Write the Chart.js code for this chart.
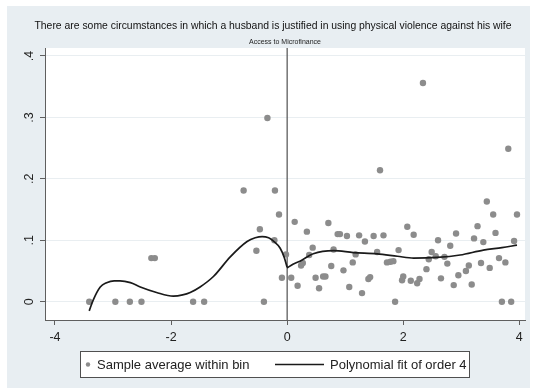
<!DOCTYPE html>
<html>
<head>
<meta charset="utf-8">
<script src="https://cdn.jsdelivr.net/npm/chart.js@4.4.1/dist/chart.umd.min.js"></script>
<style>
    html, body { margin: 0; padding: 0; background: #fff; }
</style>
</head>
<body>
<canvas id="chart" width="534" height="390"></canvas>
<script>
// bin averages (x = running variable, y = share)
const binX = [-3.41, -2.96, -2.71, -2.51, -2.34, -2.28, -1.62, -1.43,
    -0.75, -0.53, -0.47, -0.40, -0.34, -0.22, -0.21, -0.14, -0.09, -0.02,
    0.07, 0.13, 0.18, 0.24, 0.27, 0.34, 0.38, 0.44, 0.49, 0.55, 0.62, 0.66, 0.71, 0.76, 0.80, 0.87, 0.91, 0.97,
    1.03, 1.07, 1.13, 1.18, 1.24, 1.29, 1.34, 1.40, 1.43, 1.49, 1.55, 1.60, 1.66, 1.72, 1.78, 1.83, 1.86, 1.92, 1.98,
    2.00, 2.07, 2.13, 2.18, 2.24, 2.28, 2.34, 2.40, 2.44, 2.49, 2.56, 2.60, 2.65, 2.71, 2.76, 2.81, 2.87, 2.91, 2.95,
    3.08, 3.13, 3.18, 3.22, 3.28, 3.34, 3.38, 3.44, 3.49, 3.55, 3.59, 3.65, 3.70, 3.76, 3.81, 3.86, 3.91, 3.96];
const binY = [0, 0, 0, 0, 0.071, 0.071, 0, 0,
    0.181, 0.083, 0.118, 0, 0.299, 0.100, 0.181, 0.142, 0.039, 0.077,
    0.039, 0.130, 0.026, 0.059, 0.063, 0.114, 0.076, 0.088, 0.039, 0.022, 0.041, 0.041, 0.128, 0.058, 0.085, 0.110, 0.110, 0.051,
    0.107, 0.024, 0.064, 0.077, 0.108, 0.014, 0.098, 0.037, 0.040, 0.107, 0.081, 0.214, 0.108, 0.064, 0.065, 0.066, 0, 0.084, 0.035,
    0.041, 0.122, 0.034, 0.109, 0.030, 0.037, 0.356, 0.053, 0.069, 0.081, 0.074, 0.100, 0.038, 0.073, 0.062, 0.091, 0.027, 0.111, 0.043,
    0.050, 0.059, 0.028, 0.103, 0.123, 0.063, 0.097, 0.163, 0.055, 0.142, 0.112, 0.071, 0, 0.064, 0.249, 0, 0.099, 0.142];

const fitLeftX = [-3.41, -3.34, -3.22, -3.11, -2.98, -2.88, -2.70, -2.53, -2.25, -1.96, -1.80, -1.67, -1.50, -1.27, -0.98, -0.69, -0.55, -0.43, -0.32, -0.24, -0.12, -0.05, 0];
const fitLeftY = [-0.015, 0.003, 0.024, 0.031, 0.034, 0.034, 0.031, 0.024, 0.015, 0.009, 0.011, 0.015, 0.024, 0.041, 0.073, 0.098, 0.104, 0.106, 0.104, 0.099, 0.087, 0.072, 0.056];
const fitRightX = [0, 0.10, 0.22, 0.45, 0.80, 1.14, 1.55, 1.90, 2.18, 2.58, 2.98, 3.38, 3.70, 3.96];
const fitRightY = [0.055, 0.061, 0.066, 0.078, 0.083, 0.080, 0.078, 0.074, 0.071, 0.072, 0.076, 0.084, 0.088, 0.092];

const xTicks = [-4, -2, 0, 2, 4];
const xTickLabels = ['-4', '-2', '0', '2', '4'];
const yTicks = [0, 0.1, 0.2, 0.3, 0.4];
const yTickLabels = ['0', '.1', '.2', '.3', '.4'];

const titleText = 'There are some circumstances in which a husband is justified in using physical violence against his wife';
const subtitleText = 'Access to Microfinance';
const legendLabels = ['Sample average within bin', 'Polynomial fit of order 4'];

const cutoff = 0;
const pointGrey = '#8c8c8c';
const axisGrey = '#5f5f5f';
const FONT = '"Liberation Sans", Arial, sans-serif';

const toPoints = (xs, ys) => xs.map((x, i) => ({ x: x, y: ys[i] }));

const stataFrame = {
    id: 'stataFrame',
    beforeDraw(chart) {
        const ctx = chart.ctx;
        const a = chart.chartArea;
        ctx.save();
        ctx.fillStyle = '#ffffff';
        ctx.fillRect(0, 0, chart.width, chart.height);
        ctx.fillStyle = '#e8eef2';
        ctx.fillRect(7, 6, 523, 382);
        ctx.fillStyle = '#ffffff';
        ctx.fillRect(a.left, a.top, a.right - a.left, a.bottom - a.top);
        ctx.restore();
    },
    beforeDatasetsDraw(chart) {
        // vertical line at the cutoff
        const ctx = chart.ctx;
        const a = chart.chartArea;
        const px = chart.scales.x.getPixelForValue(cutoff);
        ctx.save();
        ctx.strokeStyle = '#505050';
        ctx.lineWidth = 1.2;
        ctx.beginPath();
        ctx.moveTo(px, a.top);
        ctx.lineTo(px, a.bottom);
        ctx.stroke();
        ctx.restore();
    },
    afterDraw(chart) {
        const ctx = chart.ctx;
        const a = chart.chartArea;
        ctx.save();
        ctx.textBaseline = 'middle';
        ctx.textAlign = 'center';

        ctx.fillStyle = '#111';
        ctx.font = '10.4px ' + FONT;
        ctx.fillText(titleText, 273, 26);
        ctx.font = '7px ' + FONT;
        ctx.fillStyle = '#222';
        ctx.fillText(subtitleText, (a.left + a.right) / 2, 42);

        // legend box
        ctx.fillStyle = '#ffffff';
        ctx.fillRect(80.5, 351.5, 389, 26);
        ctx.strokeStyle = '#505050';
        ctx.lineWidth = 1;
        ctx.strokeRect(80.5, 351.5, 389, 26);

        ctx.fillStyle = pointGrey;
        ctx.beginPath();
        ctx.arc(88, 364.5, 2.2, 0, Math.PI * 2);
        ctx.fill();

        ctx.strokeStyle = '#1a1a1a';
        ctx.lineWidth = 1.6;
        ctx.beginPath();
        ctx.moveTo(275, 364.5);
        ctx.lineTo(324, 364.5);
        ctx.stroke();

        ctx.fillStyle = '#222';
        ctx.textAlign = 'left';
        ctx.font = '13px ' + FONT;
        ctx.fillText(legendLabels[0], 97, 365);
        ctx.fillText(legendLabels[1], 330, 365);
        ctx.restore();
    }
};

new Chart(document.getElementById('chart'), {
    type: 'scatter',
    plugins: [stataFrame],
    data: {
        datasets: [
            {
                label: legendLabels[0],
                data: toPoints(binX, binY),
                backgroundColor: pointGrey,
                borderColor: pointGrey,
                pointRadius: 3.2,
                pointBorderWidth: 0,
                order: 2,
            },
            {
                label: legendLabels[1],
                type: 'line',
                data: toPoints(fitLeftX, fitLeftY),
                borderColor: '#1a1a1a',
                borderWidth: 1.7,
                pointRadius: 0,
                tension: 0.4,
                cubicInterpolationMode: 'monotone',
                fill: false,
                order: 1,
            },
            {
                label: '',
                type: 'line',
                data: toPoints(fitRightX, fitRightY),
                borderColor: '#1a1a1a',
                borderWidth: 1.7,
                pointRadius: 0,
                tension: 0.4,
                cubicInterpolationMode: 'monotone',
                fill: false,
                order: 1,
            }
        ]
    },
    options: {
        responsive: false,
        animation: false,
        devicePixelRatio: 1,
        layout: {
            padding: { top: 48, right: 9, bottom: 0, left: 0 }
        },
        plugins: {
            legend: { display: false },
            tooltip: { enabled: false },
        },
        scales: {
            x: {
                type: 'linear',
                min: -4.172,
                max: 4.098,
                afterBuildTicks: (scale) => { scale.ticks = xTicks.map(v => ({ value: v })); },
                afterFit: (scale) => { scale.height = 70; },
                border: { color: axisGrey, width: 1 },
                grid: {
                    display: true,
                    drawOnChartArea: false,
                    drawTicks: true,
                    tickLength: 5,
                    tickColor: axisGrey,
                },
                ticks: {
                    padding: 5,
                    color: '#222',
                    font: { family: FONT, size: 12.5 },
                    callback: (value) => xTickLabels[xTicks.indexOf(value)],
                }
            },
            y: {
                type: 'linear',
                min: -0.0298,
                max: 0.413,
                afterBuildTicks: (scale) => { scale.ticks = yTicks.map(v => ({ value: v })); },
                afterFit: (scale) => { scale.width = 45; },
                border: { color: axisGrey, width: 1 },
                grid: {
                    color: '#e9eef1',
                    lineWidth: 1,
                    drawTicks: true,
                    tickLength: 5,
                    tickColor: axisGrey,
                },
                ticks: {
                    minRotation: 90,
                    maxRotation: 90,
                    crossAlign: 'center',
                    padding: 5,
                    color: '#222',
                    font: { family: FONT, size: 12.5 },
                    callback: (value) => yTickLabels[yTicks.indexOf(value)],
                }
            }
        }
    }
});
</script>
</body>
</html>
